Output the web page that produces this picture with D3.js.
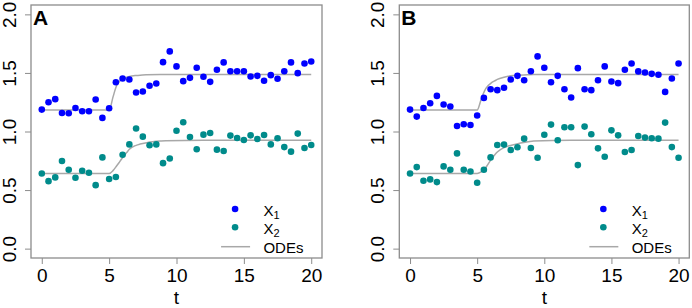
<!DOCTYPE html>
<html>
<head>
<meta charset="utf-8">
<script src="https://cdn.jsdelivr.net/npm/d3@7"></script>
<style>
  body { margin: 0; background: #fff; }
  svg { font-family: "Liberation Sans", Arial, sans-serif; }
</style>
</head>
<body>
<div class="box"></div>
<script>
// temps d'observation
const times = [0, 0.5, 1, 1.5, 2, 2.5, 3, 3.5, 4, 4.5, 5, 5.5, 6, 6.5, 7, 7.5, 8, 8.5, 9, 9.5,
               10, 10.5, 11, 11.5, 12, 12.5, 13, 13.5, 14, 14.5, 15, 15.5, 16, 16.5, 17, 17.5, 18, 18.5, 19, 19.5, 20];

// panneau A
const x1A = [1.187, 1.25, 1.276, 1.158, 1.156, 1.20, 1.173, 1.173, 1.273, 1.116, 1.199, 1.421, 1.453, 1.444, 1.333, 1.341, 1.39, 1.41, 1.592, 1.684,
             1.556, 1.43, 1.458, 1.544, 1.467, 1.424, 1.527, 1.59, 1.515, 1.515, 1.515, 1.47, 1.475, 1.433, 1.481, 1.45, 1.515, 1.59, 1.498, 1.581, 1.598];
const x2A = [0.642, 0.576, 0.608, 0.748, 0.673, 0.605, 0.665, 0.648, 0.542, 0.779, 0.594, 0.611, 0.802, 0.89, 1.025, 0.956, 0.882, 0.89, 0.73, 0.77,
             1.006, 1.079, 0.953, 0.848, 0.973, 0.987, 0.845, 0.833, 0.965, 0.945, 0.927, 0.967, 0.936, 0.97, 0.89, 0.942, 0.867, 0.828, 0.982, 0.859, 0.885];

// panneau B
const x1B = [1.187, 1.127, 1.20, 1.241, 1.304, 1.23, 1.213, 1.047, 1.062, 1.056, 1.136, 1.287, 1.361, 1.353, 1.373, 1.444, 1.475, 1.438, 1.515, 1.641,
             1.544, 1.421, 1.475, 1.361, 1.29, 1.541, 1.361, 1.353, 1.438, 1.556, 1.427, 1.413, 1.527, 1.581, 1.513, 1.504, 1.492, 1.484, 1.338, 1.453, 1.581];
const x2B = [0.642, 0.696, 0.58, 0.591, 0.568, 0.702, 0.673, 0.813, 0.673, 0.659, 0.562, 0.673, 0.779, 0.885, 0.888, 0.842, 0.865, 0.939, 0.859, 0.776,
             0.972, 1.059, 0.925, 1.036, 1.036, 0.713, 1.042, 0.976, 0.856, 0.785, 1.01, 0.967, 0.825, 0.842, 0.962, 0.948, 0.942, 0.939, 1.076, 0.867, 0.776];

// courbes ODE
const odeTimes = [0, 5, 5.3, 5.55, 5.8, 6.05, 6.3, 6.5, 7, 7.3, 7.8, 8.8, 9.2, 12, 20];
const ode1A = [1.184, 1.184, 1.30, 1.39, 1.432, 1.452, 1.464, 1.47, 1.478, 1.481, 1.484, 1.487, 1.487, 1.487, 1.487];
const ode2A = [0.642, 0.642, 0.668, 0.705, 0.745, 0.785, 0.82, 0.848, 0.882, 0.893, 0.905, 0.918, 0.921, 0.925, 0.925];
const ode1B = [1.184, 1.184, 1.276, 1.347, 1.39, 1.415, 1.432, 1.445, 1.464, 1.472, 1.479, 1.485, 1.486, 1.487, 1.487];
const ode2B = [0.642, 0.642, 0.655, 0.676, 0.72, 0.762, 0.8, 0.825, 0.862, 0.875, 0.89, 0.912, 0.919, 0.925, 0.925];

const xTicks = [0, 5, 10, 15, 20];
const yTicks = [0, 0.5, 1, 1.5, 2];

const panels = [
  {label: 'A', left: 31, right: 322, x1: x1A, x2: x2A, o1: ode1A, o2: ode2A},
  {label: 'B', left: 399.3, right: 689.3, x1: x1B, x2: x2B, o1: ode1B, o2: ode2B}
];

const dims = {top: 5, bottom: 258};
const couleurs = {x1: '#0000ff', x2: '#008b8b', ode: '#a8a8a8', box: '#8c8c8c'};

const svg = d3.select('.box')
              .append('svg')
              .attr('width', 692)
              .attr('height', 308);

const dessine = (p) => {

  const x = d3.scaleLinear().domain([-0.8, 20.8]).range([p.left, p.right]);
  const y = d3.scaleLinear().domain([-0.08, 2.08]).range([dims.bottom, dims.top]);

  const g = svg.append('g');

  // axes
  const xAxis = g.append('g')
                 .attr('transform', `translate(0, ${dims.bottom})`)
                 .call(d3.axisBottom(x).tickValues(xTicks).tickSize(6).tickSizeOuter(0).tickFormat(d3.format('d')));
  xAxis.select('.domain').remove();
  xAxis.selectAll('line').attr('stroke', couleurs.box);
  xAxis.selectAll('text')
       .attr('y', 24).attr('dy', 0)
       .attr('font-size', 19).attr('fill', '#000');

  const yAxis = g.append('g')
                 .attr('transform', `translate(${p.left}, 0)`)
                 .call(d3.axisLeft(y).tickValues(yTicks).tickSize(6).tickSizeOuter(0).tickFormat(d3.format('.1f')));
  yAxis.select('.domain').remove();
  yAxis.selectAll('line').attr('stroke', couleurs.box);
  yAxis.selectAll('text')
       .attr('x', null).attr('dy', 0)
       .attr('text-anchor', 'middle')
       .attr('transform', 'translate(-15.5, 0) rotate(-90)')
       .attr('font-size', 19).attr('fill', '#000');

  // cadre
  g.append('rect')
   .attr('x', p.left).attr('y', dims.top)
   .attr('width', p.right - p.left).attr('height', dims.bottom - dims.top)
   .attr('fill', 'none').attr('stroke', couleurs.box).attr('stroke-width', 1.3);

  // titre de l'axe
  g.append('text')
   .attr('x', x(10)).attr('y', 304)
   .attr('text-anchor', 'middle')
   .attr('font-size', 19)
   .text('t');

  // lettre du panneau
  g.append('text')
   .attr('x', p.left + 2).attr('y', 25)
   .attr('font-size', 21).attr('font-weight', 'bold')
   .text(p.label);

  // courbes ODE
  const ligne = (vals) => d3.line()
                            .x((d, i) => x(odeTimes[i]))
                            .y(d => y(d))
                            .curve(d3.curveMonotoneX)(vals);

  [p.o1, p.o2].forEach(vals => {
    g.append('path')
     .attr('d', ligne(vals))
     .attr('fill', 'none')
     .attr('stroke', couleurs.ode)
     .attr('stroke-width', 1.5);
  });

  // points
  g.append('g').selectAll('circle')
   .data(p.x1)
   .enter()
   .append('circle')
   .attr('cx', (d, i) => x(times[i]))
   .attr('cy', d => y(d))
   .attr('r', 3.3)
   .attr('fill', couleurs.x1);

  g.append('g').selectAll('circle')
   .data(p.x2)
   .enter()
   .append('circle')
   .attr('cx', (d, i) => x(times[i]))
   .attr('cy', d => y(d))
   .attr('r', 3.3)
   .attr('fill', couleurs.x2);

  // légende
  const lx = x(0) + 193.3;
  const leg = g.append('g');
  leg.append('circle').attr('cx', lx).attr('cy', 209).attr('r', 3.3).attr('fill', couleurs.x1);
  leg.append('circle').attr('cx', lx).attr('cy', 227.3).attr('r', 3.3).attr('fill', couleurs.x2);
  leg.append('line')
     .attr('x1', lx - 14).attr('x2', lx + 15)
     .attr('y1', 246.7).attr('y2', 246.7)
     .attr('stroke', couleurs.ode).attr('stroke-width', 1.5);

  const lt = lx + 28.3;
  [['1', 215.5], ['2', 233.8]].forEach(([sub, by]) => {
    const t = leg.append('text').attr('x', lt).attr('y', by).attr('font-size', 15);
    t.append('tspan').text('X');
    t.append('tspan').attr('font-size', 11).attr('dy', 3.5).text(sub);
  });
  leg.append('text').attr('x', lt).attr('y', 252.6).attr('font-size', 15).text('ODEs');
}

panels.forEach(dessine);
</script>
</body>
</html>
